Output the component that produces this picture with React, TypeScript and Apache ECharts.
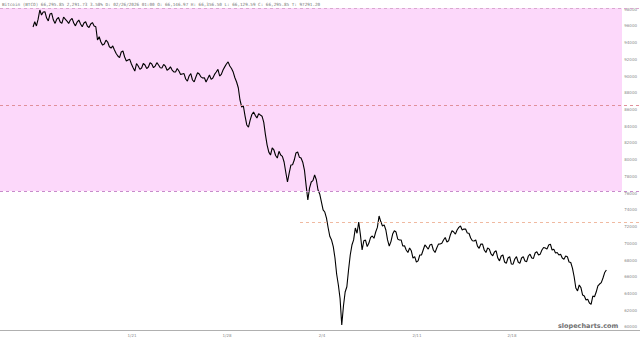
import React, { useEffect, useRef } from "react";
import * as echarts from "echarts";

// 6-hour BTC price readings, starting Jan 13 17:00 (day-of-year units)
const startDay = 13.708;
const stepDays = 0.25;
const prices = [
  95870, 95990, 97900, 97660, 96940, 97420, 96700, 96820, 96460, 97060,
  96580, 96700, 96350, 96460, 96230, 96350, 95990, 96230, 95990, 94310,
  94070, 93830, 94070, 93350, 93120, 92400, 92880, 92280, 91920, 91440,
  90600, 91200, 90960, 91320, 91080, 91440, 91200, 91320, 90960, 91200,
  90840, 90720, 90480, 90600, 90250, 89650, 90010, 89530, 89890, 90250,
  89770, 89290, 90130, 89770, 90480, 90010, 90720, 91440, 91200, 90480,
  89290, 87140, 86420, 84150, 84740, 85700, 84980, 85340, 84500, 81750,
  80560, 81160, 80200, 80560, 79720, 77330, 79360, 79960, 80920, 80200,
  78760, 75180, 77330, 78170, 76370, 74940, 73740, 71830, 70390, 68240,
  65010, 60230, 64170, 66800, 69790, 71830, 72550, 69200, 70390, 70030,
  70870, 71350, 73260, 72070, 71590, 69670, 71110, 71350, 70390, 69670,
  69200, 69440, 68240, 67760, 68600, 69200, 69560, 69790, 69200, 69440,
  69910, 70390, 70150, 70990, 71350, 71590, 72070, 71710, 71230, 70630,
  70270, 69670, 69910, 69200, 69440, 68720, 68960, 68240, 68480, 67760,
  68240, 67520, 68120, 67760, 68240, 67880, 68480, 68240, 68840, 68600,
  69200, 69440, 69790, 69200, 68840, 68600, 68240, 68480, 67760, 67040,
  64650, 65010, 63810, 63220, 62860, 63690, 64170, 65130, 65850, 66800,
];
// readings 3 hours after each of the above
const midPrices = [
  96500, 96800, 97300, 97700, 96600, 97500, 96300, 97000, 96300, 96800,
  96300, 96900, 96000, 96700, 95900, 96500, 95800, 96400, 95900, 94700,
  93700, 94300, 93500, 93600, 92700, 92200, 93000, 91800, 92000, 91000,
  91500, 90800, 91500, 90900, 91600, 91000, 91600, 91000, 91400, 90700,
  91100, 90500, 90900, 90200, 90300, 89400, 90300, 89300, 90400, 89900,
  89800, 89700, 89600, 90200, 90800, 90200, 91100, 91700, 90900, 89800,
  88600, 86300, 85200, 83900, 85400, 85300, 85500, 85200, 83000, 80900,
  81400, 80500, 81000, 80400, 78500, 78400, 79400, 80800, 80300, 79700,
  76900, 76600, 77500, 77600, 75900, 74000, 73000, 70800, 69600, 66300,
  63400, 62500, 64800, 68600, 70400, 71200, 71000, 70300, 69600, 70700,
  70600, 71900, 72600, 72200, 70400, 70200, 71500, 70500, 70400, 69700,
  68900, 69100, 68400, 67900, 68600, 69800, 69300, 69900, 68900, 69900,
  70000, 70700, 70300, 71500, 71100, 71900, 71600, 71700, 71200, 70300,
  70400, 69400, 69900, 68900, 69300, 68500, 69100, 67900, 68600, 67600,
  68400, 67500, 68400, 67600, 68400, 67800, 68700, 68200, 69000, 68700,
  69500, 69300, 69900, 69300, 68900, 68700, 68100, 68400, 67700, 66000,
  64300, 64700, 63700, 63300, 62700, 63600, 64900, 65300, 66500,
];

const xTickDays = [21, 28, 35, 42, 49];
const xTickLabels = ["1/21", "1/28", "2/4", "2/11", "2/18"];
const yTicks = [
  60000, 62000, 64000, 66000, 68000, 70000, 72000, 74000, 76000, 78000,
  80000, 82000, 84000, 86000, 88000, 90000, 92000, 94000, 96000, 98000,
];

const zoneTop = 98140;
const zoneMid = 86540;
const zoneBottom = 76250;
const resistance = 72545;
const resistanceStartDay = 33.38;
const zoneEndDay = 57.11;

const xMin = 11.273;
const xMax = 58.436;
const yMin = 59630;
const yMax = 98260;

const titleText =
  "Bitcoin (BTCO) 66,295.85 2,291.73 3.58% D: 02/26/2026 01:00 O: 66,146.97 H: 66,356.50 L: 66,129.59 C: 66,295.85 T: 97291.20";

export default function App() {
  const ref = useRef<HTMLDivElement>(null);
  useEffect(() => {
    if (!ref.current) return;
    const chart = echarts.init(ref.current, undefined, { renderer: "svg" });
    const data: number[][] = [];
    prices.forEach((p, i) => {
      data.push([startDay + i * stepDays, p]);
      if (i < midPrices.length) data.push([startDay + (i + 0.5) * stepDays, midPrices[i]]);
    });
    chart.setOption({
      animation: false,
      backgroundColor: "#ffffff",
      grid: { left: 0, right: 0, top: 7, bottom: 10, containLabel: false, outerBoundsMode: "none" },
      xAxis: {
        type: "value",
        min: xMin,
        max: xMax,
        axisLine: { show: true, lineStyle: { color: "#b0b0b0", width: 1 } },
        axisTick: { show: false },
        splitLine: { show: false },
        axisLabel: {
          customValues: xTickDays,
          fontSize: 4,
          color: "#8a8a8a",
          margin: 3,
          fontFamily: "DejaVu Sans",
          formatter: (v: number) => {
            const i = xTickDays.indexOf(Math.round(v));
            return i >= 0 ? xTickLabels[i] : "";
          },
        },
      },
      yAxis: {
        type: "value",
        position: "right",
        min: yMin,
        max: yMax,
        axisLine: { show: false },
        axisTick: { show: false },
        splitLine: { show: false },
        axisLabel: {
          inside: true,
          customValues: yTicks,
          fontSize: 4,
          color: "#8a8a8a",
          margin: 3,
          fontFamily: "DejaVu Sans",
          formatter: (v: number) => String(v),
        },
      },
      graphic: [
        {
          type: "text",
          left: 2,
          top: 2,
          style: {
            text: titleText,
            fontSize: 4.3,
            fontFamily: "DejaVu Sans Mono",
            fill: "#777777",
          },
        },
        {
          type: "text",
          left: 558,
          top: 322,
          style: {
            text: "slopecharts.com",
            fontSize: 6.5,
            fontWeight: "bold",
            fontFamily: "DejaVu Sans",
            fill: "#707070",
          },
        },
      ],
      series: [
        {
          type: "custom",
          z: 1,
          silent: true,
          encode: { x: [0, 2], y: [1, 3] },
          data: [[xMin, zoneTop, zoneEndDay, zoneBottom]],
          renderItem: (_params: any, api: any) => {
            const p1 = api.coord([api.value(0), api.value(1)]);
            const p2 = api.coord([api.value(2), api.value(3)]);
            return {
              type: "rect",
              shape: { x: p1[0], y: p1[1], width: p2[0] - p1[0], height: p2[1] - p1[1] },
              style: { fill: "#fcd8fa" },
            };
          },
        },
        {
          type: "line",
          z: 3,
          data,
          symbol: "none",
          lineStyle: { color: "#000000", width: 1.1 },
          silent: true,
          markLine: {
            silent: true,
            symbol: "none",
            label: { show: false },
            data: [
              { yAxis: zoneTop, lineStyle: { color: "#d9a8cf", type: [3, 3], width: 1 } },
              { yAxis: zoneMid, lineStyle: { color: "#e0909a", type: [3, 3], width: 1 } },
              { yAxis: zoneBottom, lineStyle: { color: "#c88ccb", type: [3, 3], width: 1 } },
              [
                { coord: [resistanceStartDay, resistance], lineStyle: { color: "#f0b9a0", type: [3, 3], width: 1 } },
                { coord: [xMax, resistance] },
              ],
            ],
          },
        },
      ],
    });
    return () => chart.dispose();
  }, []);
  return (
    <div
      ref={ref}
      style={{ position: "fixed", left: 0, top: 0, width: 640, height: 340 }}
    />
  );
}
